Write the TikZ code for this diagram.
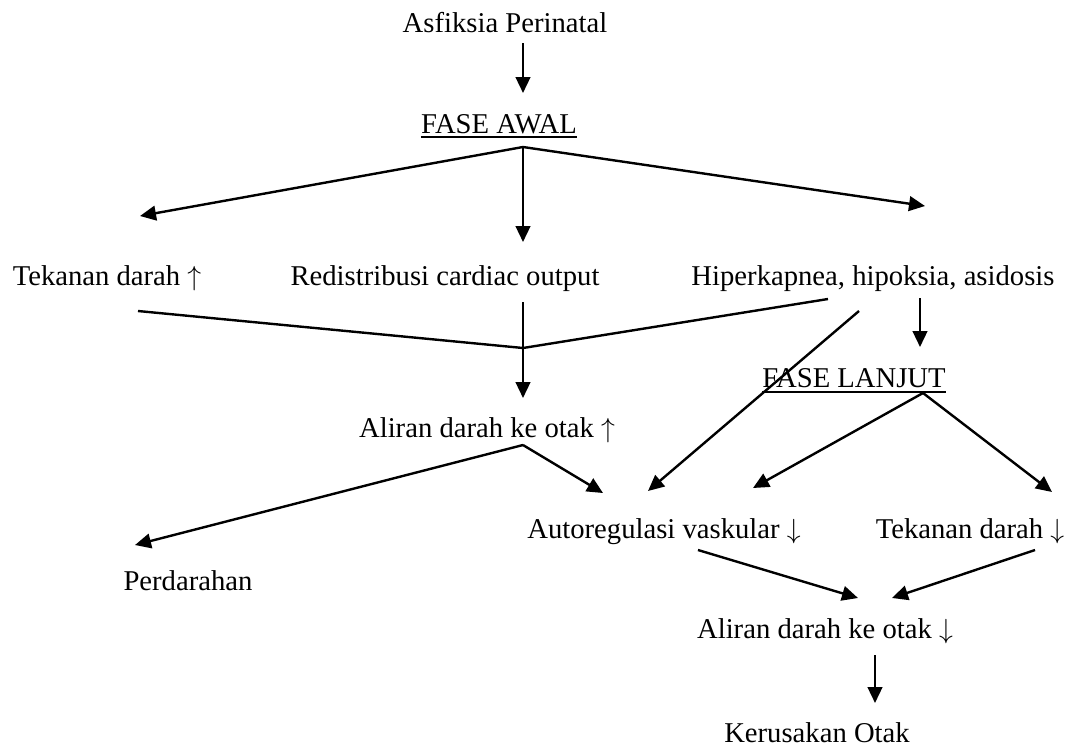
\documentclass[tikz,border=0pt]{standalone}
\usepackage{fontspec}
\setmainfont{Liberation Serif}
\usetikzlibrary{arrows.meta}

\begin{document}
\begin{tikzpicture}[x=0.75pt,y=0.75pt,yscale=-1,
    txt/.style={anchor=base,inner sep=0pt,font=\fontsize{21.5}{26}\selectfont},
    arr/.style={line width=1.8pt,-{Triangle[length=12pt,width=11pt]}},
    ln/.style={line width=1.8pt},
    ul/.style={line width=1.5pt}]
        \useasboundingbox (0,0) rectangle (1071,747);

        % Text Node
        \node[txt] (asf) at (505,32) {Asfiksia Perinatal};
        % Text Node
        \node[txt] (awal) at (499,133) {FASE AWAL};
        % Text Node
        \node[txt] (tekup) at (107,285) {Tekanan darah $\uparrow$};
        % Text Node
        \node[txt] (redis) at (445,285) {Redistribusi cardiac output};
        % Text Node
        \node[txt] (hiper) at (873,285) {Hiperkapnea, hipoksia, asidosis};
        % Text Node
        \node[txt] (lanjut) at (854,387) {FASE LANJUT};
        % Text Node
        \node[txt] (alirup) at (487,437) {Aliran darah ke otak $\uparrow$};
        % Text Node
        \node[txt] (autoreg) at (664,538) {Autoregulasi vaskular $\downarrow$};
        % Text Node
        \node[txt] (tekdown) at (970,538) {Tekanan darah $\downarrow$};
        % Text Node
        \node[txt] (perd) at (188,590) {Perdarahan};
        % Text Node
        \node[txt] (alirdown) at (825,638) {Aliran darah ke otak $\downarrow$};
        % Text Node
        \node[txt] (rusak) at (817,742) {Kerusakan Otak};

        % underlines
        \draw[ul] ([yshift=3pt]awal.base west) -- ([yshift=3pt]awal.base east);
        \draw[ul] ([yshift=4pt]lanjut.base west) -- ([yshift=4pt]lanjut.base east);

        % connection points
        \coordinate (asf-out) at (523,43);
        \coordinate (awal-in) at (523,93);
        \coordinate (awal-out) at (523,147);
        \coordinate (tekup-in) at (140,216);
        \coordinate (redis-in) at (523,242);
        \coordinate (hiper-in) at (925,206);
        \coordinate (tekup-out) at (138,311);
        \coordinate (redis-out) at (523,302);
        \coordinate (hiper-outa) at (828,299);
        \coordinate (hiper-outb) at (859,311);
        \coordinate (hiper-outc) at (920,298);
        \coordinate (join) at (523,348);
        \coordinate (alirup-in) at (523,398);
        \coordinate (alirup-out) at (523,445);
        \coordinate (lanjut-in) at (920,347);
        \coordinate (lanjut-out) at (923,393);
        \coordinate (perd-in) at (135,545);
        \coordinate (autoreg-ina) at (603,493);
        \coordinate (autoreg-inb) at (648,491);
        \coordinate (autoreg-inc) at (753,488);
        \coordinate (tekdown-in) at (1052,492);
        \coordinate (autoreg-out) at (698,550);
        \coordinate (tekdown-out) at (1035,550);
        \coordinate (alirdown-ina) at (858,598);
        \coordinate (alirdown-inb) at (892,598);
        \coordinate (alirdown-out) at (875,655);
        \coordinate (rusak-in) at (875,703);

        %Straight Lines
        \draw[arr] (asf-out) -- (awal-in);
        \draw[arr] (awal-out) -- (tekup-in);
        \draw[arr] (awal-out) -- (redis-in);
        \draw[arr] (awal-out) -- (hiper-in);
        \draw[ln] (tekup-out) -- (join) -- (hiper-outa);
        \draw[arr] (redis-out) -- (alirup-in);
        \draw[arr] (hiper-outc) -- (lanjut-in);
        \draw[arr] (hiper-outb) -- (autoreg-inb);
        \draw[arr] (lanjut-out) -- (autoreg-inc);
        \draw[arr] (lanjut-out) -- (tekdown-in);
        \draw[arr] (alirup-out) -- (perd-in);
        \draw[arr] (alirup-out) -- (autoreg-ina);
        \draw[arr] (autoreg-out) -- (alirdown-ina);
        \draw[arr] (tekdown-out) -- (alirdown-inb);
        \draw[arr] (alirdown-out) -- (rusak-in);

\end{tikzpicture}
\end{document}
